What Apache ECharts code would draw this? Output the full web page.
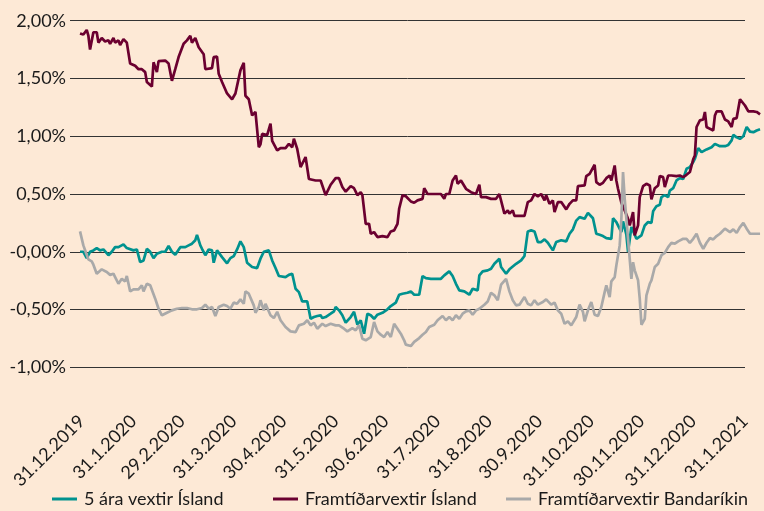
<!DOCTYPE html>
<html>
<head>
<meta charset="utf-8">
<script src="https://cdn.jsdelivr.net/npm/echarts@6/dist/echarts.min.js"></script>
<style>
html,body{margin:0;padding:0;background:#fde9d6;}
#chart{width:764px;height:511px;}
</style>
</head>
<body>
<div id="chart"></div>
<script>
// Series names (legend)
const seriesNames = ['5 ára vextir Ísland', 'Framtíðarvextir Ísland', 'Framtíðarvextir Bandaríkin'];

// X axis: tick labels at month ends, as day offsets from 31.12.2019
const dateLabels = ['31.12.2019','31.1.2020','29.2.2020','31.3.2020','30.4.2020','31.5.2020','30.6.2020','31.7.2020','31.8.2020','30.9.2020','31.10.2020','30.11.2020','31.12.2020','31.1.2021'];
const labelDays = [0,31,60,91,121,152,182,213,244,274,305,335,366,397];

// Y axis tick labels (value -1 .. 2 step 0.5)
const yTickValues = [-1, -0.5, 0, 0.5, 1, 1.5, 2];
const yTickLabels = ['-1,00%','-0,50%','-0,00%','0,50%','1,00%','1,50%','2,00%'];

// 5 ára vextir Ísland: [day offset, value %]
const island5y = [[-1,0.0],[1,0.0],[3,-0.055],[5,0.0],[7,0.012],[9,0.032],[11,0.012],[13,0.02],[14,0.032],[16,-0.03],[18,0.0],[20,0.04],[22,0.04],[25,0.064],[27,0.032],[28,0.04],[31,0.012],[33,0.02],[35,-0.09],[37,-0.075],[39,0.026],[41,0.0],[43,-0.055],[45,-0.017],[48,0.0],[50,0.0],[52,0.05],[54,0.0],[56,-0.026],[59,0.04],[62,0.04],[64,0.055],[66,0.07],[68,0.10],[69,0.147],[71,0.055],[72,0.026],[74,-0.03],[76,0.02],[78,0.012],[79,-0.095],[81,0.012],[82,0.0],[84,-0.046],[85,-0.06],[87,-0.10],[89,-0.055],[91,-0.037],[93,0.02],[95,0.09],
[97,0.04],[99,-0.095],[102,-0.132],[105,-0.141],[107,-0.06],[109,0.0],[112,0.012],[114,-0.075],[116,-0.141],[118,-0.21],[122,-0.219],[124,-0.20],[126,-0.19],[128,-0.32],[130,-0.349],[132,-0.43],[135,-0.43],[137,-0.58],[139,-0.565],[141,-0.556],[143,-0.55],[144,-0.574],[146,-0.565],[149,-0.536],[151,-0.516],[152,-0.478],[154,-0.507],[156,-0.55],[158,-0.614],[161,-0.565],[163,-0.52],[165,-0.63],[167,-0.593],[169,-0.709],[171,-0.536],[173,-0.55],[175,-0.58],[177,-0.545],[180,-0.528],[183,-0.498],[185,-0.47],[188,-0.44],[190,-0.372],[192,-0.363],[195,-0.355],[197,-0.343],
[199,-0.372],[202,-0.372],[204,-0.21],[206,-0.228],[209,-0.234],[212,-0.234],[215,-0.234],[217,-0.204],[220,-0.17],[222,-0.21],[224,-0.277],[226,-0.334],[229,-0.343],[232,-0.372],[234,-0.32],[237,-0.334],[238,-0.204],[240,-0.17],[243,-0.161],[245,-0.147],[247,-0.104],[250,-0.06],[251,-0.132],[254,-0.19],[256,-0.152],[260,-0.104],[263,-0.075],[265,-0.037],[267,0.176],[269,0.185],[271,0.176],[273,0.084],[275,0.084],[277,0.107],[279,0.078],[282,0.012],[284,0.084],[287,0.10],[290,0.09],[292,0.156],[294,0.194],[296,0.27],[298,0.30],
[301,0.286],[303,0.337],[306,0.29],[308,0.156],[310,0.147],[312,0.136],[314,0.118],[317,0.112],[318,0.29],[320,0.257],[321,0.27],[323,0.17],[324,0.263],[326,0.147],[327,0.0],[329,0.214],[330,0.205],[332,0.112],[333,0.10],[335,0.142],[337,0.228],[339,0.257],[341,0.25],[342,0.35],[344,0.395],[346,0.407],[347,0.473],[349,0.49],[351,0.473],[352,0.53],[354,0.55],[356,0.617],[358,0.637],[360,0.63],[362,0.718],[364,0.733],[366,0.776],[367,0.805],[369,0.897],[371,0.862],[374,0.886],[377,0.905],[379,0.934],[382,0.914],[385,0.914],[387,0.925],[389,0.964],[390,1.012],[392,0.99],[394,0.977],[396,1.0],[398,1.08],[400,1.04],[402,1.035],[404,1.05],[406,1.06]];

// Framtíðarvextir Ísland
const islandFwd = [[-1,1.89],[1,1.88],[3,1.92],[4,1.87],[5,1.75],[7,1.90],[9,1.90],[10,1.81],[12,1.85],[14,1.82],[16,1.83],[17,1.80],[19,1.85],[20,1.81],[22,1.83],[23,1.79],[25,1.84],[26,1.855],[27,1.81],[29,1.63],[32,1.61],[34,1.58],[36,1.58],[38,1.555],[39,1.47],[42,1.43],[43,1.64],[45,1.555],[46,1.65],[50,1.655],[52,1.63],[54,1.48],[56,1.58],[58,1.685],[61,1.80],[63,1.83],[65,1.87],[66,1.81],[68,1.85],[70,1.77],[73,1.71],[74,1.58],[78,1.59],[79,1.685],[81,1.69],[82,1.54],[84,1.47],[87,1.37],[90,1.32],[92,1.37],[95,1.57],[97,1.635],[98,1.35],[100,1.32],[102,1.18],[104,1.21],[106,0.905],[107,0.93],[108,1.02],[111,1.01],[113,1.11],[114,0.96],[117,0.877],[119,0.897],[122,0.897],[124,0.934],[126,0.905],[127,0.978],[129,0.89],[131,0.733],[134,0.82],[136,0.63],[140,0.617],[143,0.617],[146,0.49],[147,0.49],[149,0.58],[150,0.568],[152,0.637],[154,0.637],[156,0.56],[158,0.52],[161,0.568],[163,0.55],[165,0.49],[167,0.516],[168,0.49],[170,0.242],[172,0.242],[173,0.156],[175,0.17],[177,0.127],[180,0.136],[183,0.127],[185,0.176],[187,0.185],[189,0.242],[190,0.372],[192,0.488],[194,0.48],[197,0.436],[199,0.424],[201,0.445],[204,0.458],[205,0.55],[207,0.50],[215,0.50],[217,0.458],[218,0.50],[220,0.50],[222,0.617],[224,0.66],[225,0.588],[227,0.617],[230,0.545],[233,0.516],[236,0.50],[238,0.58],[239,0.473],[242,0.473],[245,0.458],[248,0.458],[250,0.50],[252,0.387],[253,0.33],[255,0.358],[256,0.33],[258,0.358],[259,0.31],[262,0.31],[265,0.31],[267,0.43],[269,0.445],[271,0.50],[273,0.48],[275,0.50],[277,0.445],[278,0.49],[280,0.415],[282,0.445],[283,0.343],[285,0.43],[287,0.43],[290,0.367],[292,0.415],[294,0.445],[296,0.445],[297,0.568],[301,0.574],[302,0.655],[304,0.675],[307,0.753],[308,0.603],[310,0.58],[312,0.597],[314,0.637],[316,0.66],[317,0.617],[319,0.747],[320,0.617],[321,0.545],[323,0.424],[324,0.436],[325,0.358],[327,0.286],[328,0.228],[330,0.343],[331,0.142],[333,0.228],[334,0.473],[336,0.568],[338,0.588],[340,0.574],[341,0.453],[343,0.55],[345,0.574],[346,0.655],[348,0.646],[349,0.56],[351,0.66],[353,0.66],[354,0.675],[356,0.655],[358,0.66],[360,0.646],[362,0.666],[364,0.69],[366,0.80],[367,0.834],[368,1.08],[370,1.137],[372,1.145],[373,1.21],[374,1.08],[376,1.064],[378,1.05],[379,1.18],[380,1.215],[383,1.215],[385,1.145],[387,1.128],[389,1.08],[390,1.15],[392,1.157],[394,1.32],[395,1.32],[397,1.266],[399,1.215],[402,1.215],[404,1.21],[406,1.19]];

// Framtíðarvextir Bandaríkin
const usFwd = [[-1,0.176],[1,0.055],[3,-0.026],[4,-0.066],[6,-0.083],[7,-0.112],[9,-0.19],[12,-0.152],[15,-0.175],[17,-0.20],[19,-0.19],[20,-0.219],[22,-0.277],[24,-0.234],[26,-0.256],[27,-0.21],[29,-0.343],[31,-0.325],[34,-0.325],[36,-0.29],[37,-0.343],[39,-0.277],[41,-0.29],[44,-0.406],[46,-0.493],[48,-0.55],[51,-0.528],[54,-0.507],[57,-0.493],[60,-0.487],[63,-0.487],[66,-0.498],[69,-0.498],[72,-0.487],[74,-0.458],[76,-0.493],[78,-0.478],[80,-0.556],[82,-0.478],[85,-0.458],[87,-0.47],[89,-0.493],[91,-0.44],[93,-0.45],[95,-0.412],
[97,-0.45],[98,-0.343],[100,-0.363],[103,-0.464],[104,-0.528],[106,-0.478],[107,-0.42],[109,-0.507],[110,-0.45],[113,-0.55],[115,-0.574],[117,-0.52],[119,-0.593],[122,-0.651],[125,-0.689],[128,-0.695],[130,-0.637],[133,-0.623],[135,-0.593],[137,-0.637],[139,-0.614],[141,-0.666],[144,-0.623],[146,-0.643],[149,-0.623],[152,-0.637],[154,-0.637],[157,-0.666],[159,-0.689],[162,-0.66],[164,-0.68],[166,-0.637],[168,-0.753],[170,-0.766],[173,-0.738],[175,-0.608],[177,-0.689],[179,-0.718],[181,-0.738],[183,-0.695],[185,-0.738],[187,-0.623],[189,-0.666],[191,-0.709],[193,-0.766],[194,-0.804],[197,-0.816],
[199,-0.78],[202,-0.747],[204,-0.718],[206,-0.695],[208,-0.651],[211,-0.632],[213,-0.593],[216,-0.556],[218,-0.593],[220,-0.565],[222,-0.593],[224,-0.55],[226,-0.58],[228,-0.536],[230,-0.516],[232,-0.507],[234,-0.545],[236,-0.507],[238,-0.493],[241,-0.458],[243,-0.43],[245,-0.355],[247,-0.377],[249,-0.42],[251,-0.285],[252,-0.268],[254,-0.234],[256,-0.343],[258,-0.42],[260,-0.464],[262,-0.458],[265,-0.392],[267,-0.45],[269,-0.464],[271,-0.42],[273,-0.458],[276,-0.435],[278,-0.412],[281,-0.458],[283,-0.44],[285,-0.507],[287,-0.536],[289,-0.623],[291,-0.602],[293,-0.637],[296,-0.565],[297,-0.507],[298,-0.458],
[300,-0.52],[301,-0.602],[303,-0.507],[305,-0.435],[307,-0.545],[309,-0.556],[311,-0.478],[313,-0.349],[314,-0.29],[316,-0.392],[317,-0.256],[319,-0.219],[320,-0.118],[322,0.055],[323,0.286],[324,0.69],[325,0.458],[326,0.286],[327,0.112],[329,-0.234],[330,-0.09],[331,-0.161],[333,-0.247],[334,-0.406],[335,-0.632],[337,-0.58],[338,-0.377],[340,-0.277],[341,-0.247],[343,-0.132],[345,-0.104],[347,-0.03],[349,-0.01],[351,0.04],[353,0.078],[355,0.07],[357,0.09],[360,0.112],[362,0.112],[364,0.078],[366,0.112],[368,0.156],[370,0.078],[372,0.026],[374,0.078],[376,0.118],[378,0.107],[380,0.136],[382,0.156],[385,0.20],[386,0.205],[388,0.17],[390,0.194],[392,0.164],[394,0.214],[396,0.25],[398,0.20],[400,0.156],[403,0.156],[406,0.156]];

const colors = ['#00928f', '#6b0030', '#a9a9a9'];
const FONT = 'Lato';
const FS = 18;
const chart = echarts.init(document.getElementById('chart'), null, {renderer: 'canvas'});

function legendItem(i, left) {
  return {
    data: [seriesNames[i]],
    left: left,
    top: 490,
    padding: 0,
    icon: 'rect',
    itemWidth: 25,
    itemHeight: 3,
    itemGap: 0,
    textStyle: {fontFamily: FONT, fontSize: FS, color: '#1a1a1a', padding: [0, 0, 0, 2]}
  };
}

const X_MIN = -7, X_MAX = 397;
// data grid extends slightly right of the gridlines at the same day scale
const DATA_RIGHT = 2;
const X_MAX_DATA = X_MIN + (X_MAX - X_MIN) * (764 - 70 - DATA_RIGHT) / (764 - 70 - 19);

chart.setOption({
  backgroundColor: '#fde9d6',
  animation: false,
  color: colors,
  legend: [legendItem(0, 52), legendItem(1, 273), legendItem(2, 506)],
  grid: [
    {left: 70, right: 19, top: 20.7, bottom: 143.7},
    {left: 70, right: DATA_RIGHT, top: 20.7, bottom: 143.7}
  ],
  xAxis: [{
    gridIndex: 0,
    type: 'value',
    min: X_MIN,
    max: X_MAX,
    axisLine: {show: false},
    axisTick: {show: false},
    splitLine: {show: false},
    axisLabel: {
      customValues: labelDays,
      rotate: 45,
      margin: 51,
      fontFamily: FONT,
      fontSize: FS,
      color: '#1a1a1a',
      formatter: function (v) {
        const i = labelDays.indexOf(v);
        return i >= 0 ? dateLabels[i] : '';
      }
    }
  }, {
    gridIndex: 1,
    type: 'value',
    min: X_MIN,
    max: X_MAX_DATA,
    show: false
  }],
  yAxis: [{
    gridIndex: 0,
    type: 'value',
    min: -1,
    max: 2,
    interval: 0.5,
    axisLine: {show: false},
    axisTick: {show: false},
    splitLine: {show: true, lineStyle: {color: '#333333', width: 1}},
    axisLabel: {
      margin: 4,
      fontFamily: FONT,
      fontSize: FS,
      color: '#1a1a1a',
      formatter: function (v) {
        const i = yTickValues.findIndex(t => Math.abs(t - v) < 1e-9);
        return i >= 0 ? yTickLabels[i] : '';
      }
    }
  }, {
    gridIndex: 1,
    type: 'value',
    min: -1,
    max: 2,
    interval: 0.5,
    show: false,
    splitLine: {show: false}
  }],
  series: [
    {name: seriesNames[0], type: 'line', xAxisIndex: 1, yAxisIndex: 1, data: island5y, showSymbol: false, lineStyle: {width: 2.7, color: colors[0]}, itemStyle: {color: colors[0]}},
    {name: seriesNames[1], type: 'line', xAxisIndex: 1, yAxisIndex: 1, data: islandFwd, showSymbol: false, lineStyle: {width: 2.7, color: colors[1]}, itemStyle: {color: colors[1]}},
    {name: seriesNames[2], type: 'line', xAxisIndex: 1, yAxisIndex: 1, data: usFwd, showSymbol: false, lineStyle: {width: 2.7, color: colors[2]}, itemStyle: {color: colors[2]}}
  ]
});
</script>
</body>
</html>
